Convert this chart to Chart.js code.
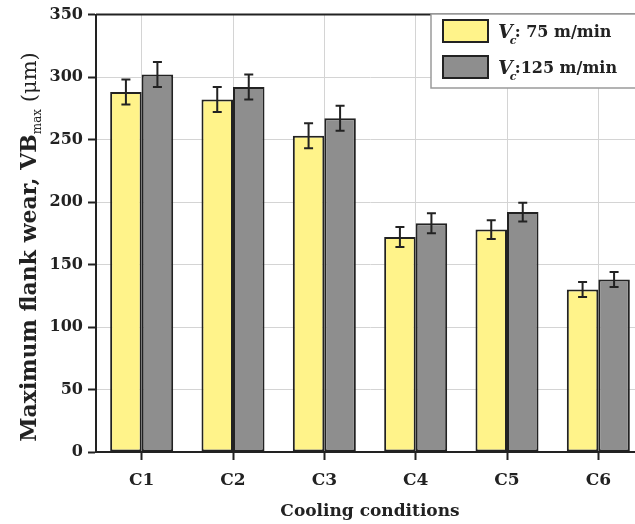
<!DOCTYPE html>
<html>
<head>
<meta charset="utf-8">
<script src="https://cdn.jsdelivr.net/npm/chart.js@4"></script>
<style>
    html, body { margin: 0; padding: 0; background: #fff; overflow: hidden; }
    #wrap { width: 650px; height: 524px; }
</style>
</head>
<body>
<div id="wrap"><canvas id="chart" width="650" height="524"></canvas></div>
<script>
// ====================================
// DATA
// ====================================
const categories = ['C1', 'C2', 'C3', 'C4', 'C5', 'C6'];
const vc75 = [288, 282, 253, 172, 178, 130];
const vc75Err = [10, 10, 10, 8, 7.5, 6];
const vc125 = [302, 292, 267, 183, 192, 138];
const vc125Err = [10, 10, 10, 8, 7.5, 6];
const yMin = 0;
const yMax = 350;
const yStep = 50;

const errors = [vc75Err, vc125Err];
const SERIF = '"DejaVu Serif", "Liberation Serif", serif';
const INK = '#222';

// Error bars drawn on top of each bar
const errorBarPlugin = {
    id: 'errorBars',
    afterDatasetsDraw(chart) {
        const ctx = chart.ctx;
        const yScale = chart.scales.y;
        ctx.save();
        ctx.strokeStyle = INK;
        ctx.lineWidth = 2;
        chart.data.datasets.forEach((ds, i) => {
            const meta = chart.getDatasetMeta(i);
            meta.data.forEach((bar, j) => {
                const v = ds.data[j];
                const e = errors[i][j];
                const top = yScale.getPixelForValue(v + e);
                const bot = yScale.getPixelForValue(v - e);
                const x = bar.x;
                ctx.beginPath();
                ctx.moveTo(x, top); ctx.lineTo(x, bot);
                ctx.moveTo(x - 4.5, top); ctx.lineTo(x + 4.5, top);
                ctx.moveTo(x - 4.5, bot); ctx.lineTo(x + 4.5, bot);
                ctx.stroke();
            });
        });
        ctx.restore();
    }
};

// Frame top line, y title with subscript, legend
const decorPlugin = {
    id: 'decor',
    afterDraw(chart) {
        const ctx = chart.ctx;
        const area = chart.chartArea;
        ctx.save();

        // top frame
        ctx.strokeStyle = INK;
        ctx.lineWidth = 2;
        ctx.beginPath();
        ctx.moveTo(area.left, area.top);
        ctx.lineTo(area.right, area.top);
        ctx.stroke();

        // y axis title
        ctx.fillStyle = INK;
        ctx.textBaseline = 'alphabetic';
        ctx.textAlign = 'left';
        const main = 'Maximum flank wear, VB';
        const sub = 'max';
        const unit = ' (\u03bcm)';
        const fMain = 'bold 22px ' + SERIF;
        const fSub = '12px ' + SERIF;
        const fUnit = '21px ' + SERIF;
        ctx.font = fMain; const w1 = ctx.measureText(main).width;
        ctx.font = fSub; const w2 = ctx.measureText(sub).width;
        ctx.font = fUnit; const w3 = ctx.measureText(unit).width;
        const total = w1 + w2 + w3;
        ctx.translate(36, 247);
        ctx.rotate(-Math.PI / 2);
        let u = -total / 2;
        ctx.font = fMain; ctx.fillText(main, u, 0); u += w1;
        ctx.font = fSub; ctx.fillText(sub, u, 5); u += w2;
        ctx.font = fUnit; ctx.fillText(unit, u, 0);
        ctx.setTransform(1, 0, 0, 1, 0, 0);

        // legend
        const lx = 431, ly = 14, lw = 220, lh = 74;
        ctx.fillStyle = '#fff';
        ctx.fillRect(lx, ly, lw, lh);
        ctx.strokeStyle = '#9a9a9a';
        ctx.lineWidth = 1.5;
        ctx.strokeRect(lx, ly, lw, lh);

        const rows = [
            { color: chart.data.datasets[0].backgroundColor, text: ': 75 m/min', y: 31 },
            { color: chart.data.datasets[1].backgroundColor, text: ':125 m/min', y: 67 }
        ];
        rows.forEach(r => {
            ctx.fillStyle = r.color;
            ctx.fillRect(443, r.y - 11, 45, 22);
            ctx.strokeStyle = INK;
            ctx.lineWidth = 2;
            ctx.strokeRect(443, r.y - 11, 45, 22);

            ctx.fillStyle = INK;
            ctx.font = 'italic bold 19px ' + SERIF;
            ctx.fillText('V', 498, r.y + 7);
            const vw = ctx.measureText('V').width;
            ctx.font = 'italic bold 11px ' + SERIF;
            ctx.fillText('c', 498 + vw - 3, r.y + 13);
            ctx.font = 'bold 16px ' + SERIF;
            ctx.fillText(r.text, 498 + vw + 2, r.y + 6);
        });

        ctx.restore();
    }
};

const chart = new Chart(document.getElementById('chart'), {
    type: 'bar',
    data: {
        labels: categories,
        datasets: [
            {
                label: 'Vc: 75 m/min',
                data: vc75,
                backgroundColor: '#fff38a',
                borderColor: INK,
                borderWidth: 2,
                borderSkipped: false
            },
            {
                label: 'Vc:125 m/min',
                data: vc125,
                backgroundColor: '#8e8e8e',
                borderColor: INK,
                borderWidth: 2,
                borderSkipped: false
            }
        ]
    },
    options: {
        responsive: false,
        animation: false,
        devicePixelRatio: 1,
        layout: { padding: { top: 12, right: 6, left: 0, bottom: 0 } },
        datasets: {
            bar: { categoryPercentage: 0.69, barPercentage: 1.0 }
        },
        plugins: {
            legend: { display: false },
            tooltip: { enabled: false }
        },
        scales: {
            x: {
                grid: {
                    offset: false,
                    color: '#d4d4d4',
                    tickColor: INK,
                    tickLength: 8,
                    tickWidth: 2
                },
                border: { display: true, color: INK, width: 2 },
                ticks: {
                    color: INK,
                    padding: 10,
                    font: { family: SERIF, size: 17, weight: 'bold' }
                },
                title: {
                    display: true,
                    text: 'Cooling conditions',
                    color: INK,
                    padding: { top: 0, bottom: 2 },
                    font: { family: SERIF, size: 17, weight: 'bold' }
                },
                afterFit(scale) { scale.height = 72; }
            },
            y: {
                min: yMin,
                max: yMax,
                grid: {
                    color: '#d4d4d4',
                    tickColor: INK,
                    tickLength: 8,
                    tickWidth: 2
                },
                border: { display: true, color: INK, width: 2 },
                ticks: {
                    stepSize: yStep,
                    color: INK,
                    padding: 5,
                    font: { family: SERIF, size: 16, weight: 'bold' }
                },
                afterFit(scale) { scale.width = 96; }
            }
        }
    },
    plugins: [errorBarPlugin, decorPlugin]
});
</script>
</body>
</html>
